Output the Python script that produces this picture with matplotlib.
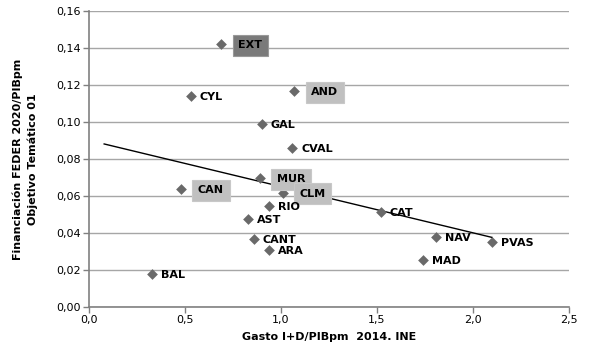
import matplotlib
matplotlib.use('Agg')
import matplotlib.pyplot as plt
import numpy as np

# Data
regions = ['EXT', 'CYL', 'AND', 'GAL', 'CVAL', 'MUR', 'CAN', 'CLM', 'RIO',
           'AST', 'CANT', 'ARA', 'CAT', 'MAD', 'NAV', 'PVAS', 'BAL']
gasto_id = [0.69, 0.53, 1.07, 0.90, 1.06, 0.89, 0.48, 1.01, 0.94,
            0.83, 0.86, 0.94, 1.52, 1.74, 1.81, 2.10, 0.33]
feder = [0.142, 0.114, 0.1165, 0.099, 0.086, 0.0696, 0.0636, 0.0618, 0.0548,
         0.0476, 0.0366, 0.0308, 0.0515, 0.0254, 0.038, 0.0351, 0.0177]
boxed_dark = ['EXT']
boxed_light = ['AND', 'MUR', 'CLM', 'CAN']
trend_start = 0.08

fig = plt.figure(figsize=(6.0, 3.53), dpi=100)
ax = fig.add_axes([0.148, 0.130, 0.800, 0.839])

ax.set_xlim(0, 2.5)
ax.set_ylim(0, 0.16)
ax.set_yticks(np.arange(0, 0.161, 0.02))
ax.set_xticks(np.arange(0, 2.51, 0.5))
ax.set_yticklabels([f'{v:.2f}'.replace('.', ',') for v in ax.get_yticks()])
ax.set_xticklabels([f'{v:.1f}'.replace('.', ',') for v in ax.get_xticks()])
ax.tick_params(labelsize=8, color='#808080', length=4, width=1, pad=2)
ax.yaxis.grid(True, color='#a6a6a6', linewidth=1)
ax.set_axisbelow(True)
for s in ['top', 'right']:
    ax.spines[s].set_visible(False)
for s in ['left', 'bottom']:
    ax.spines[s].set_color('#808080')
    ax.spines[s].set_linewidth(1.2)

# Trend line (least squares)
k, b = np.polyfit(gasto_id, feder, 1)
xs = np.array([trend_start, max(gasto_id)])
ax.plot(xs, k * xs + b, color='black', linewidth=1, zorder=2)

ax.scatter(gasto_id, feder, marker='D', s=30, color='#696969', zorder=3,
           linewidths=0)

for name, x, y in zip(regions, gasto_id, feder):
    bbox = None
    if name in boxed_dark:
        bbox = dict(boxstyle='square,pad=0.5', fc='#7a7a7a', ec='#999999', lw=0.8)
    elif name in boxed_light:
        bbox = dict(boxstyle='square,pad=0.5', fc='#c0c0c0', ec='#c8c8c8', lw=0.8)
    dx = 17 if bbox else 9
    ax.annotate(name, (x, y), xytext=(dx, -1), textcoords='offset pixels',
                ha='left', va='center', fontsize=8, fontweight='bold',
                color='black', bbox=bbox, zorder=4)

ax.set_xlabel('Gasto I+D/PIBpm  2014. INE', fontsize=8, fontweight='bold', labelpad=5)
ax.set_ylabel('Financiación FEDER 2020/PIBpm\nObjetivo Temático 01', fontsize=8,
              fontweight='bold', labelpad=13, linespacing=1.5)

fig.savefig('out.png', dpi=100, facecolor='white')
